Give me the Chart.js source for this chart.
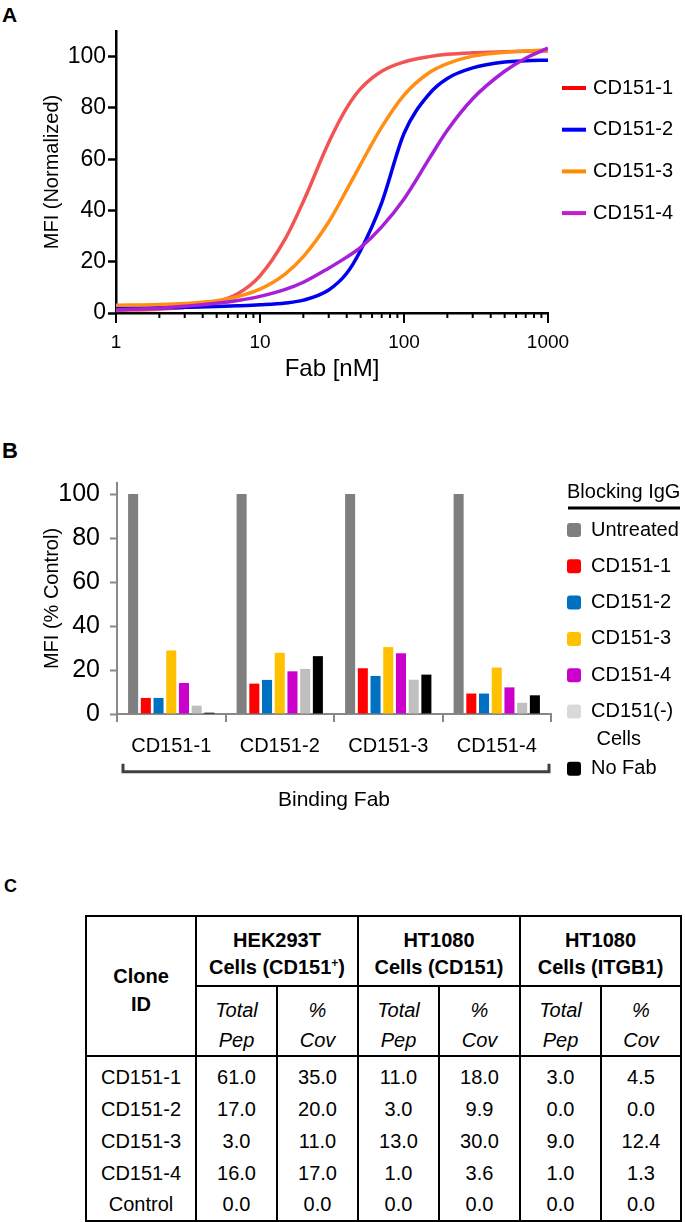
<!DOCTYPE html>
<html>
<head>
<meta charset="utf-8">
<title>CD151 Fab binding</title>
<script src="https://cdn.jsdelivr.net/npm/chart.js@4.4.1/dist/chart.umd.min.js"></script>
<style>
  body { margin: 0; background: #fff; }
  #root { position: relative; width: 685px; height: 1222px; font-family: "Liberation Sans", Arial, sans-serif; color: #000; }
  .panel-label { position: absolute; font-weight: bold; line-height: 1; }
  canvas { position: absolute; left: 0; }
  #curveChart { top: 0; }
  #barChart { top: 430px; }
  #pepTable { position: absolute; left: 85px; top: 915px; width: 595px; table-layout: fixed; border-collapse: collapse; border: 2.5px solid #000; font-size: 20px; }
  #pepTable th, #pepTable td { padding: 0; text-align: center; vertical-align: middle; border-left: 2px solid #000; border-right: 2px solid #000; }
  #pepTable tr.grp { height: 70px; }
  #pepTable tr.grp th { line-height: 26.6px; padding-top: 6px; border-bottom: 2px solid #000; }
  #pepTable tr.grp th.clone { line-height: 28px; padding-top: 7px; }
  #pepTable tr.sub { height: 68px; }
  #pepTable tr.sub th { line-height: 30px; padding-top: 8px; font-style: italic; font-weight: normal; border-bottom: 2px solid #000; }
  #pepTable tbody tr { height: 32px; }
  #pepTable tbody tr:first-child { height: 37px; }
  #pepTable tbody tr:first-child td { padding-top: 5px; }
  #pepTable sup { font-size: 12px; line-height: 0; vertical-align: 7px; }
</style>
</head>
<body>
<div id="root">
  <div class="panel-label" style="left:2px;top:4px;font-size:21px">A</div>
  <canvas id="curveChart" width="685" height="385"></canvas>
  <div class="panel-label" style="left:2px;top:440px;font-size:22px">B</div>
  <canvas id="barChart" width="685" height="390"></canvas>
  <div class="panel-label" style="left:4px;top:877px;font-size:18px">C</div>
  <table id="pepTable"></table>
</div>
<script>
// A: binding curves, Fab concentration in nM
const fabConc = [1, 2, 3, 5, 7, 10, 15, 20, 30, 40, 50, 70, 100, 150, 200, 300, 500, 700, 1000];
const mfiClone1 = [1.0, 1.5, 2.2, 4.3, 7.5, 14.5, 29, 43.5, 66.5, 80, 87.5, 94.3, 97.9, 100.0, 100.9, 101.5, 101.9, 102.1, 102.2];
const mfiClone2 = [1.8, 2.0, 2.2, 2.5, 2.8, 3.2, 3.9, 5.0, 9.0, 15.5, 24.5, 43, 70, 85.5, 91.5, 95.6, 97.9, 98.4, 98.6];
const mfiClone3 = [3.0, 3.3, 3.7, 4.8, 6.4, 9.3, 15.3, 22, 35.5, 48, 58, 72.5, 85, 93.8, 97.3, 100.2, 101.7, 102.2, 102.6];
const mfiClone4 = [1.3, 1.9, 2.6, 3.8, 4.9, 6.5, 9.2, 12, 17.5, 21.8, 25.6, 33.6, 44.5, 60.3, 71.3, 83.6, 94.3, 99.4, 103.3];
const curveLabels = ['CD151-1', 'CD151-2', 'CD151-3', 'CD151-4'];
const xTickLabels = [1, 10, 100, 1000];
const yTicksA = [0, 20, 40, 60, 80, 100];

// B: blocking IgG vs binding Fab
const bindingFabs = ['CD151-1', 'CD151-2', 'CD151-3', 'CD151-4'];
const blockingLegend = ['Untreated', 'CD151-1', 'CD151-2', 'CD151-3', 'CD151-4', ['CD151(-)', ' Cells'], 'No Fab'];
const untreated = [100, 100, 100, 100];
const blockClone1 = [7.3, 13.8, 20.8, 9.3];
const blockClone2 = [7.3, 15.5, 17.3, 9.3];
const blockClone3 = [28.9, 27.8, 30.4, 21.1];
const blockClone4 = [14.1, 19.4, 27.6, 12.1];
const negCells = [3.8, 20.5, 15.6, 5.1];
const noFab = [0.6, 26.3, 17.9, 8.5];
const yTicksB = [0, 20, 40, 60, 80, 100];

// C: peptide table
const cloneIds = ['CD151-1', 'CD151-2', 'CD151-3', 'CD151-4', 'Control'];
const hekPep = [61, 17, 3, 16, 0];
const hekCov = [35, 20, 11, 17, 0];
const htCd151Pep = [11, 3, 13, 1, 0];
const htCd151Cov = [18, 9.9, 30, 3.6, 0];
const htItgb1Pep = [3, 0, 9, 1, 0];
const htItgb1Cov = [4.5, 0, 12.4, 1.3, 0];

Chart.defaults.font.family = '"Liberation Sans", Arial, sans-serif';
Chart.defaults.color = '#000';

const legendFont = '20px "Liberation Sans", Arial, sans-serif';

// legend drawn next to the plot area
const sideLegend = {
    id: 'sideLegend',
    afterDraw(chart, args, o) {
        const {ctx, chartArea} = chart;
        const x0 = chartArea.right;
        ctx.save();
        ctx.font = o.font;
        ctx.textBaseline = 'middle';
        ctx.fillStyle = '#000';
        if (o.title) {
            ctx.fillText(o.title, x0 + o.markX, o.titleY);
            ctx.fillRect(x0 + o.ruleX, o.ruleY - 1.5, o.ruleW, 3);
        }
        let y = o.top;
        o.labels.forEach((label, i) => {
            const lines = [].concat(label);
            ctx.fillStyle = o.colors[i];
            if (o.marker === 'line') {
                ctx.fillRect(x0 + o.markX, y - 2, o.markW, 4);
            } else {
                ctx.beginPath();
                ctx.roundRect(x0 + o.markX, y - o.markW / 2, o.markW, o.markW, 3);
                ctx.fill();
            }
            ctx.fillStyle = '#000';
            lines.forEach((line, k) => ctx.fillText(line, x0 + o.textX, y + k * (o.lineGap || 0)));
            y += o.step + (lines.length - 1) * (o.extra || 0);
        });
        ctx.restore();
    }
};

// log axis tick marks, long at decades
const logTicks = {
    id: 'logTicks',
    afterDraw(chart) {
        const {ctx} = chart;
        const x = chart.scales.x;
        ctx.save();
        ctx.strokeStyle = '#000';
        ctx.lineWidth = 2;
        x.ticks.forEach(t => {
            const px = x.getPixelForValue(t.value);
            const len = xTickLabels.includes(t.value) ? 10 : 5;
            ctx.beginPath();
            ctx.moveTo(px, x.top);
            ctx.lineTo(px, x.top + len);
            ctx.stroke();
        });
        ctx.restore();
    }
};

// bracket under the category labels
const bracket = {
    id: 'bracket',
    afterDraw(chart, args, o) {
        const {ctx, chartArea: a} = chart;
        ctx.save();
        ctx.strokeStyle = '#404040';
        ctx.lineWidth = 3;
        ctx.beginPath();
        ctx.moveTo(a.left + 6, o.y - 8);
        ctx.lineTo(a.left + 6, o.y);
        ctx.lineTo(a.right - 2, o.y);
        ctx.lineTo(a.right - 2, o.y - 8);
        ctx.stroke();
        ctx.restore();
    }
};

const logTickValues = [1, 10, 100].flatMap(d => [1, 2, 3, 4, 5, 6, 7, 8, 9].map(k => k * d)).concat(1000);
const curveSeries = [mfiClone1, mfiClone2, mfiClone3, mfiClone4];
const curveColors = ['#f25454', '#0000ee', '#ff8e12', '#a620d8'];

new Chart(document.getElementById('curveChart'), {
    type: 'line',
    data: {
        datasets: curveSeries.map((vals, i) => ({
            label: curveLabels[i],
            data: fabConc.map((x, j) => ({x, y: vals[j]})),
            borderColor: curveColors[i],
            borderWidth: 3.5,
            pointRadius: 0,
            cubicInterpolationMode: 'monotone',
            order: 3 - i
        }))
    },
    options: {
        responsive: false,
        animation: false,
        layout: {padding: {top: 31, right: 137}},
        plugins: {
            legend: {display: false},
            tooltip: {enabled: false},
            sideLegend: {
                marker: 'line', labels: curveLabels,
                colors: ['#ff0000', '#0000ff', '#ff8c00', '#bf1fd0'],
                top: 88, step: 41.7, markX: 14, markW: 24, textX: 45, font: legendFont
            }
        },
        scales: {
            x: {
                type: 'logarithmic', min: 1, max: 1000,
                afterBuildTicks: s => { s.ticks = logTickValues.map(v => ({value: v})); },
                afterFit: s => { s.height = 72; },
                grid: {display: false},
                border: {color: '#000', width: 2.5},
                ticks: {
                    autoSkip: false, maxRotation: 0, padding: 10, font: {size: 19},
                    callback: v => xTickLabels.includes(v) ? String(v) : ''
                },
                title: {display: true, text: 'Fab [nM]', font: {size: 24}, padding: {top: 0, bottom: 1}}
            },
            y: {
                min: 0, max: 110,
                afterBuildTicks: s => { s.ticks = yTicksA.map(v => ({value: v})); },
                afterFit: s => { s.width = 116; },
                grid: {drawOnChartArea: false, tickLength: 8, tickWidth: 2.5, tickColor: '#000'},
                border: {color: '#000', width: 2.5},
                ticks: {padding: 2, font: {size: 23}},
                title: {display: true, text: 'MFI (Normalized)', font: {size: 20}, padding: {top: 40}}
            }
        }
    },
    plugins: [logTicks, sideLegend]
});

const blockingSeries = [untreated, blockClone1, blockClone2, blockClone3, blockClone4, negCells, noFab];
const barColors = ['#7f7f7f', '#ff0000', '#0070c0', '#ffc000', '#cc00cc', '#bfbfbf', '#000000'];

new Chart(document.getElementById('barChart'), {
    type: 'bar',
    data: {
        labels: bindingFabs,
        datasets: blockingSeries.map((vals, i) => ({
            label: [].concat(blockingLegend[i]).join(' '),
            data: vals,
            backgroundColor: barColors[i],
            categoryPercentage: 0.82,
            barPercentage: 0.79
        }))
    },
    options: {
        responsive: false,
        animation: false,
        layout: {padding: {top: 53, right: 134}},
        plugins: {
            legend: {display: false},
            tooltip: {enabled: false},
            sideLegend: {
                marker: 'square', labels: blockingLegend,
                colors: ['#7f7f7f', '#ff0000', '#0070c0', '#ffc000', '#cc00cc', '#d9d9d9', '#000000'],
                top: 100, step: 36.3, lineGap: 28, extra: 21, markX: 16, markW: 14, textX: 40,
                title: 'Blocking IgG', titleY: 62.5, ruleX: 17, ruleY: 78, ruleW: 112, font: legendFont
            },
            bracket: {y: 341.7}
        },
        scales: {
            x: {
                afterFit: s => { s.height = 106; },
                grid: {drawOnChartArea: false, tickLength: 8, lineWidth: 2, color: '#888', tickColor: '#888'},
                border: {color: '#888', width: 2},
                ticks: {padding: 12, font: {size: 20}},
                title: {display: true, text: 'Binding Fab', font: {size: 21}, padding: {top: 0, bottom: 7}}
            },
            y: {
                min: 0, max: 105,
                afterBuildTicks: s => { s.ticks = yTicksB.map(v => ({value: v})); },
                afterFit: s => { s.width = 117; },
                grid: {drawOnChartArea: false, tickLength: 7, tickWidth: 2, tickColor: '#888'},
                border: {color: '#888', width: 2},
                ticks: {padding: 10, font: {size: 25}},
                title: {display: true, text: 'MFI (% Control)', font: {size: 20}, padding: {top: 40}}
            }
        }
    },
    plugins: [sideLegend, bracket]
});

// C: table
const groups = [['HEK293T', 'Cells (CD151<sup>+</sup>)'], ['HT1080', 'Cells (CD151)'], ['HT1080', 'Cells (ITGB1)']];
const tableCols = [hekPep, hekCov, htCd151Pep, htCd151Cov, htItgb1Pep, htItgb1Cov];
document.getElementById('pepTable').innerHTML = `
    <colgroup><col style="width:110px">${'<col style="width:81px">'.repeat(5)}<col style="width:80px"></colgroup>
    <thead>
        <tr class="grp"><th rowspan="2" class="clone">Clone<br>ID</th>${groups.map(g => `<th colspan="2">${g[0]}<br>${g[1]}</th>`).join('')}</tr>
        <tr class="sub">${groups.map(() => '<th>Total<br>Pep</th><th>%<br>Cov</th>').join('')}</tr>
    </thead>
    <tbody>
        ${cloneIds.map((id, r) => `<tr><td>${id}</td>${tableCols.map(col => `<td>${col[r].toFixed(1)}</td>`).join('')}</tr>`).join('')}
    </tbody>
`;
</script>
</body>
</html>
